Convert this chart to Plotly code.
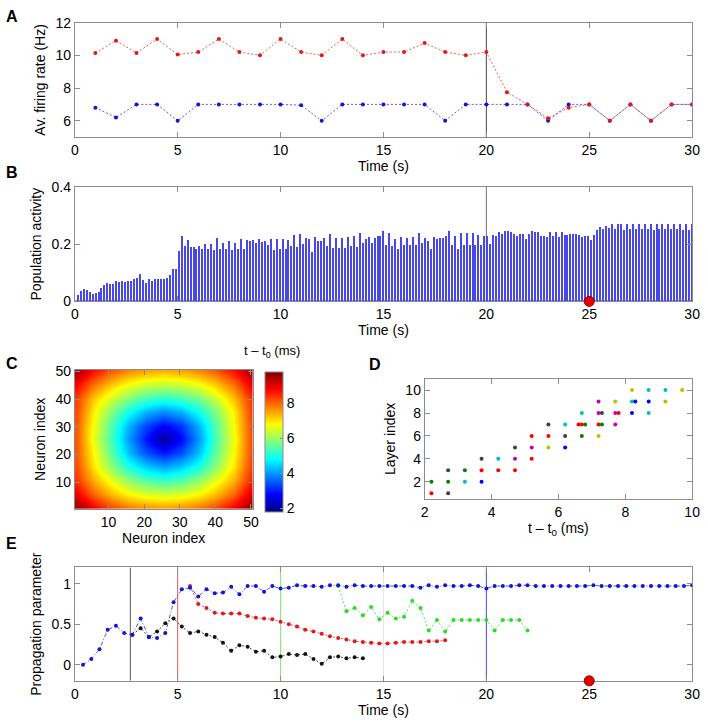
import plotly.graph_objects as go

FONT = "Liberation Sans, Arial, Helvetica, sans-serif"
W, H = 708, 727


def dx(px):
    return px / W


def dy(py):
    return 1 - py / H


# ---------------- Panel A : average firing rate ----------------
time_A = list(range(1, 31))
rate_red = [10.15, 10.9, 10.15, 11.0, 10.05, 10.2, 11.0, 10.2, 10.0, 11.0,
            10.2, 10.0, 11.0, 10.0, 10.2, 10.2, 10.75, 10.2, 10.0, 10.2,
            7.75, 7.0, 6.15, 6.8, 7.0, 6.0, 7.0, 6.0, 7.0, 7.0]
rate_blue = [6.8, 6.2, 7.0, 7.0, 6.0, 7.0, 7.0, 7.0, 7.0, 7.0,
             6.95, 6.0, 7.0, 7.0, 7.0, 7.0, 7.0, 6.0, 7.0, 7.0,
             7.0, 7.0, 6.0, 7.0, 7.0, 6.0, 7.0, 6.0, 7.0, 7.0]

# ---------------- Panel B : population activity ----------------
pop_activity = [
    0.023, 0.036, 0.044, 0.040, 0.034, 0.026, 0.030, 0.034, 0.047, 0.056,
    0.063, 0.062, 0.060, 0.071, 0.068, 0.071, 0.068, 0.072, 0.073, 0.080,
    0.081, 0.096, 0.074, 0.065, 0.080, 0.073, 0.077, 0.078, 0.080, 0.080,
    0.082, 0.093, 0.114, 0.115, 0.177, 0.229, 0.194, 0.213, 0.190, 0.190,
    0.185, 0.194, 0.185, 0.200, 0.185, 0.200, 0.180, 0.220, 0.183, 0.205,
    0.185, 0.210,
    0.180, 0.205, 0.185, 0.219, 0.185, 0.213, 0.210, 0.214, 0.203, 0.219,
    0.207, 0.210, 0.198, 0.219, 0.180, 0.217, 0.185, 0.219, 0.182, 0.214,
    0.194, 0.232, 0.191, 0.236, 0.200, 0.223, 0.217, 0.173, 0.224, 0.212,
    0.210, 0.220, 0.194, 0.235, 0.188, 0.223, 0.188, 0.223, 0.186, 0.226,
    0.193, 0.228, 0.191, 0.238, 0.203, 0.217, 0.226, 0.203, 0.223, 0.227,
    0.228, 0.246,
    0.197, 0.239, 0.194, 0.219, 0.185, 0.224, 0.197, 0.223, 0.196, 0.224,
    0.197, 0.239, 0.205, 0.220, 0.210, 0.185, 0.226, 0.219, 0.222, 0.222,
    0.227, 0.246, 0.199, 0.227, 0.183, 0.238, 0.196, 0.240, 0.196, 0.240,
    0.197, 0.232, 0.197, 0.227, 0.227, 0.202, 0.232, 0.228, 0.242, 0.237,
    0.245, 0.245, 0.242, 0.237, 0.229, 0.237, 0.237, 0.217, 0.236, 0.247,
    0.243, 0.242, 0.228, 0.228,
    0.226, 0.244, 0.230, 0.242, 0.226, 0.242, 0.231, 0.231, 0.236, 0.237,
    0.236, 0.231, 0.226, 0.228, 0.228, 0.213, 0.232, 0.251, 0.259, 0.254,
    0.264, 0.256, 0.269, 0.254, 0.269, 0.269, 0.251, 0.271, 0.253, 0.272,
    0.254, 0.272, 0.254, 0.271, 0.254, 0.271, 0.251, 0.271, 0.254, 0.272,
    0.254, 0.271, 0.254, 0.271, 0.254, 0.271, 0.251, 0.271, 0.251, 0.271,
]
n_bins = len(pop_activity)
bin_time = [30.0 * (k + 1) / n_bins for k in range(n_bins)]

# ---------------- Panel C : latency map (coarse read-out grid) ----------------
neuron_grid = [1, 5.9, 10.8, 15.7, 20.6, 25.5, 30.4, 35.3, 40.2, 45.1, 50]
latency = [  # rows from neuron index 1 (bottom) to 50 (top)
    [9.6, 8.8, 8.2, 7.8, 7.6, 7.5, 7.6, 7.8, 8.2, 8.8, 9.6],
    [8.9, 8.0, 7.3, 6.8, 6.5, 6.4, 6.5, 6.8, 7.3, 8.0, 9.0],
    [8.4, 7.4, 6.6, 5.9, 5.4, 5.2, 5.4, 5.9, 6.6, 7.4, 8.5],
    [8.2, 7.0, 5.9, 5.0, 4.4, 4.1, 4.4, 5.0, 5.9, 7.0, 8.3],
    [8.1, 6.8, 5.5, 4.3, 3.4, 3.0, 3.4, 4.3, 5.6, 6.8, 8.2],
    [8.1, 6.6, 5.3, 4.0, 2.9, 2.0, 2.8, 4.0, 5.4, 6.7, 8.2],
    [8.1, 6.7, 5.4, 4.2, 3.3, 2.8, 3.2, 4.2, 5.5, 6.8, 8.2],
    [8.2, 6.9, 5.8, 4.9, 4.2, 3.9, 4.2, 4.9, 5.8, 6.9, 8.3],
    [8.3, 7.2, 6.4, 5.8, 5.3, 5.1, 5.3, 5.7, 6.4, 7.3, 8.4],
    [8.8, 7.9, 7.2, 6.7, 6.4, 6.3, 6.4, 6.7, 7.2, 7.9, 8.9],
    [9.5, 8.7, 8.1, 7.7, 7.5, 7.4, 7.5, 7.7, 8.1, 8.7, 9.5],
]
jet = [[0.0, "rgb(0,0,128)"], [0.125, "rgb(0,0,255)"], [0.375, "rgb(0,255,255)"],
       [0.625, "rgb(255,255,0)"], [0.875, "rgb(255,0,0)"], [1.0, "rgb(128,0,0)"]]

# ---------------- Panel D : layer timing ----------------
d_red_t = [2.2, 3.7, 4.2, 4.7, 5.2, 5.2, 5.7, 6.6, 6.7, 7.2, 7.8]
d_red_layer = [1, 3, 3, 3, 4, 6, 6, 7, 7, 7, 8]
d_green_t = [2.2, 2.7, 3.2, 6.7, 6.8, 7.3]
d_green_layer = [2, 2, 3, 6, 7, 7]
d_black_t = [2.7, 2.7, 3.7, 4.7, 5.7, 6.2, 7.3]
d_black_layer = [1, 3, 4, 5, 7, 6, 8]
d_cyan_t = [3.2, 4.2, 6.2, 6.7, 8.2, 8.7, 8.7, 9.2]
d_cyan_layer = [2, 4, 7, 8, 9, 8, 10, 10]
d_blue_t = [3.7, 6.2, 8.2, 8.3, 8.7]
d_blue_layer = [2, 5, 8, 9, 9]
d_magenta_t = [4.7, 5.2, 7.2, 7.2, 7.7, 7.7]
d_magenta_layer = [4, 5, 8, 9, 7, 8]
d_yellow_t = [5.7, 7.2, 7.7, 8.2, 9.2, 9.7]
d_yellow_layer = [5, 6, 9, 10, 9, 10]

# ---------------- Panel E : propagation parameter ----------------
prop_blue = [0.00, 0.07, 0.19, 0.43, 0.48, 0.39, 0.37, 0.57, 0.34, 0.33,
             0.39, 0.77, 0.93, 0.95, 0.84, 0.93, 0.88, 0.89, 0.96, 0.87,
             0.97, 0.97, 0.90, 0.97, 0.94, 0.95, 0.98, 0.97, 0.97, 0.96,
             0.98, 0.98, 0.96, 0.98, 0.97, 0.97, 0.97, 0.97, 0.97, 0.97,
             0.97, 0.95, 0.98, 0.96, 0.98, 0.97, 0.97, 0.98, 0.97, 0.94,
             0.97, 0.97, 0.97, 0.98, 0.98, 0.97, 0.97, 0.97, 0.97, 0.97,
             0.97, 0.97, 0.98, 0.97, 0.97, 0.97, 0.97, 0.97, 0.97, 0.97,
             0.97, 0.97, 0.97, 0.97, 0.98]
prop_red = [0.97, 0.75, 0.70, 0.64, 0.63, 0.63, 0.63, 0.60, 0.58, 0.57,
            0.56, 0.53, 0.50, 0.47, 0.43, 0.41, 0.38, 0.35, 0.33, 0.31,
            0.29, 0.28, 0.27, 0.26, 0.26, 0.27, 0.28, 0.28, 0.28, 0.29,
            0.29, 0.30]
prop_black = [0.37, 0.45, 0.34, 0.41, 0.51, 0.57, 0.47, 0.39, 0.41, 0.37,
              0.34, 0.27, 0.17, 0.24, 0.22, 0.16, 0.17, 0.09, 0.10, 0.13,
              0.12, 0.13, 0.07, 0.01, 0.09, 0.10, 0.08, 0.09, 0.08]
prop_green = [0.97, 0.66, 0.70, 0.61, 0.71, 0.56, 0.64, 0.57, 0.59, 0.79,
              0.70, 0.42, 0.55, 0.41, 0.55, 0.55, 0.55, 0.55, 0.55, 0.42,
              0.55, 0.55, 0.55, 0.42]
start_blue, start_red, start_black, start_green = 0.4, 5.6, 2.8, 12.8
step_E = 0.4
time_blue = [round(start_blue + step_E * k, 2) for k in range(len(prop_blue))]
time_red = [round(start_red + step_E * k, 2) for k in range(len(prop_red))]
time_black = [round(start_black + step_E * k, 2) for k in range(len(prop_black))]
time_green = [round(start_green + step_E * k, 2) for k in range(len(prop_green))]
event_times_E = [2.7, 5, 10, 15, 20]
event_colors_E = ["rgb(90,90,90)", "rgb(225,90,90)", "rgb(120,235,120)",
                  "rgb(228,228,228)", "rgb(70,70,225)"]

marker_time = 25

# ---------------- figure ----------------
fig = go.Figure()

RED = "rgb(225,25,25)"
BLUE = "rgb(20,20,215)"
DOT = "2px,2px"

# A
fig.add_trace(go.Scatter(x=time_A, y=rate_blue, mode="lines+markers", xaxis="x", yaxis="y",
                         line=dict(color="rgba(40,40,215,0.75)", width=1, dash=DOT),
                         marker=dict(color=BLUE, size=4)))
fig.add_trace(go.Scatter(x=time_A, y=rate_red, mode="lines+markers", xaxis="x", yaxis="y",
                         line=dict(color="rgba(225,40,40,0.75)", width=1, dash=DOT),
                         marker=dict(color=RED, size=4)))

# B
fig.add_trace(go.Bar(x=bin_time, y=pop_activity, xaxis="x2", yaxis="y2", width=0.07,
                     marker=dict(color="rgb(72,72,230)", line=dict(width=0))))
fig.add_trace(go.Scatter(x=[marker_time], y=[0], mode="markers", xaxis="x2", yaxis="y2",
                         cliponaxis=False,
                         marker=dict(color="rgb(235,0,0)", size=10,
                                     line=dict(color="rgb(140,0,0)", width=1))))

# C
fig.add_trace(go.Heatmap(x=neuron_grid, y=neuron_grid, z=latency, xaxis="x3", yaxis="y3",
                         colorscale=jet, zmin=1.8, zmax=9.8, zsmooth="best",
                         colorbar=dict(x=dx(265), xanchor="left", y=dy(372), yanchor="top",
                                       len=(515 - 372) / H, lenmode="fraction",
                                       thickness=18, thicknessmode="pixels",
                                       tickvals=[2, 4, 6, 8], ticks="inside", ticklen=3,
                                       tickcolor="#8c8c8c",
                                       outlinecolor="#8c8c8c", outlinewidth=1,
                                       tickfont=dict(size=14, color="black", family=FONT),
                                       xpad=0, ypad=0)))

# D
d_series = [
    (d_red_t, d_red_layer, "rgb(255,0,0)"),
    (d_green_t, d_green_layer, "rgb(0,128,0)"),
    (d_black_t, d_black_layer, "rgb(64,64,64)"),
    (d_cyan_t, d_cyan_layer, "rgb(0,191,191)"),
    (d_blue_t, d_blue_layer, "rgb(0,0,255)"),
    (d_magenta_t, d_magenta_layer, "rgb(191,0,191)"),
    (d_yellow_t, d_yellow_layer, "rgb(191,191,0)"),
]
for xs, ys, col in d_series:
    fig.add_trace(go.Scatter(x=xs, y=ys, mode="markers", xaxis="x4", yaxis="y4",
                             marker=dict(color=col, size=4)))

# E
fig.add_trace(go.Scatter(x=time_black, y=prop_black, mode="lines+markers", xaxis="x5", yaxis="y5",
                         line=dict(color="rgba(30,30,30,0.8)", width=1, dash=DOT),
                         marker=dict(color="rgb(20,20,20)", size=4)))
fig.add_trace(go.Scatter(x=time_red, y=prop_red, mode="lines+markers", xaxis="x5", yaxis="y5",
                         line=dict(color="rgba(225,40,40,0.8)", width=1, dash=DOT),
                         marker=dict(color=RED, size=4)))
fig.add_trace(go.Scatter(x=time_green, y=prop_green, mode="lines+markers", xaxis="x5", yaxis="y5",
                         line=dict(color="rgba(40,220,40,0.8)", width=1, dash=DOT),
                         marker=dict(color="rgb(40,220,40)", size=4)))
fig.add_trace(go.Scatter(x=time_blue, y=prop_blue, mode="lines+markers", xaxis="x5", yaxis="y5",
                         line=dict(color="rgba(40,40,215,0.8)", width=1, dash="4px,2px,1px,2px"),
                         marker=dict(color=BLUE, size=4)))
fig.add_trace(go.Scatter(x=[marker_time], y=[-0.2], mode="markers", xaxis="x5", yaxis="y5",
                         cliponaxis=False,
                         marker=dict(color="rgb(235,0,0)", size=10,
                                     line=dict(color="rgb(140,0,0)", width=1))))

# shapes (event lines)
shapes = [
    dict(type="line", xref="x", yref="y", x0=20, x1=20, y0=5, y1=12, layer="below",
         line=dict(color="rgb(70,70,70)", width=1)),
    dict(type="line", xref="x2", yref="y2", x0=20, x1=20, y0=0, y1=0.4, layer="below",
         line=dict(color="rgb(110,110,110)", width=1)),
    dict(type="line", xref="x2", yref="y2", x0=0, x1=30, y0=0, y1=0, layer="below",
         line=dict(color="rgb(40,40,220)", width=2)),
]
for t, c in zip(event_times_E, event_colors_E):
    shapes.append(dict(type="line", xref="x5", yref="y5", x0=t, x1=t, y0=-0.2, y1=1.2,
                       layer="below", line=dict(color=c, width=1)))

LINE = "#8c8c8c"
TICKF = dict(size=14, color="black", family=FONT)
TITLEF = dict(size=14, color="black", family=FONT)


def axis(domain, anchor, rng, tickvals, title=None, standoff=4, ticktext=None, layer=None):
    d = dict(domain=domain, anchor=anchor, range=rng, tickvals=tickvals,
             showline=True, mirror="ticks", linecolor=LINE, linewidth=1,
             ticks="inside", ticklen=5, tickcolor=LINE, showgrid=False,
             zeroline=False, tickfont=TICKF, ticklabelstandoff=0)
    if ticktext is not None:
        d["ticktext"] = ticktext
    if title:
        d["title"] = dict(text=title, font=TITLEF, standoff=standoff)
    if layer:
        d["layer"] = layer
    return d


xA = [dx(72), dx(700)]
fig.update_layout(
    width=W, height=H, margin=dict(l=0, r=0, t=0, b=0),
    paper_bgcolor="white", plot_bgcolor="white", showlegend=False,
    font=dict(family=FONT, color="black"),
    bargap=0,
    xaxis=axis(xA, "y", [0, 30], [0, 5, 10, 15, 20, 25, 30], "Time (s)", 0),
    yaxis=axis([dy(132), dy(15)], "x", [5, 12], [6, 8, 10, 12], "Av. firing rate (Hz)", 6),
    xaxis2=axis(xA, "y2", [0, 30], [0, 5, 10, 15, 20, 25, 30], "Time (s)", 0,
                layer="below traces"),
    yaxis2=axis([dy(300), dy(183)], "x2", [0, 0.4], [0, 0.2, 0.4], "Population activity", 6,
                ["0", "0.2", "0.4"]),
    xaxis3=axis([dx(72), dx(253)], "y3", [0.5, 50.5], [10, 20, 30, 40, 50], "Neuron index", 0),
    yaxis3=axis([dy(512), dy(370)], "x3", [0.5, 50.5], [10, 20, 30, 40, 50], "Neuron index", 6),
    xaxis4=axis([dx(428), dx(700)], "y4", [2, 10], [2, 4, 6, 8, 10], "t – t<sub>0</sub> (ms)", 0),
    yaxis4=axis([dy(502), dy(379)], "x4", [0.5, 11], [2, 4, 6, 8, 10], "Layer index", 6),
    xaxis5=axis(xA, "y5", [0, 30], [0, 5, 10, 15, 20, 25, 30], "Time (s)", 0,
                layer="below traces"),
    yaxis5=axis([dy(688), dy(572)], "x5", [-0.2, 1.2], [0, 0.5, 1], "Propagation parameter", 6,
                ["0", "0.5", "1"]),
    shapes=shapes,
)

letters = [("A", 8, 9), ("B", 8, 168), ("C", 8, 363), ("D", 377, 365), ("E", 8, 548)]
ann = [dict(text=f"<b>{s}</b>", x=dx(x), y=dy(y), xref="paper", yref="paper",
            xanchor="center", yanchor="middle", showarrow=False,
            font=dict(size=16, color="black", family=FONT)) for s, x, y in letters]
ann.append(dict(text="t – t<sub>0</sub> (ms)", x=dx(273), y=dy(351), xref="paper", yref="paper",
                xanchor="center", yanchor="middle", showarrow=False,
                font=dict(size=13, color="black", family=FONT)))
fig.update_layout(annotations=ann)

fig.write_html("out.html",
               config={"displayModeBar": False},
               post_script="document.body.style.margin='0px';"
                           "document.body.style.overflow='hidden';")
